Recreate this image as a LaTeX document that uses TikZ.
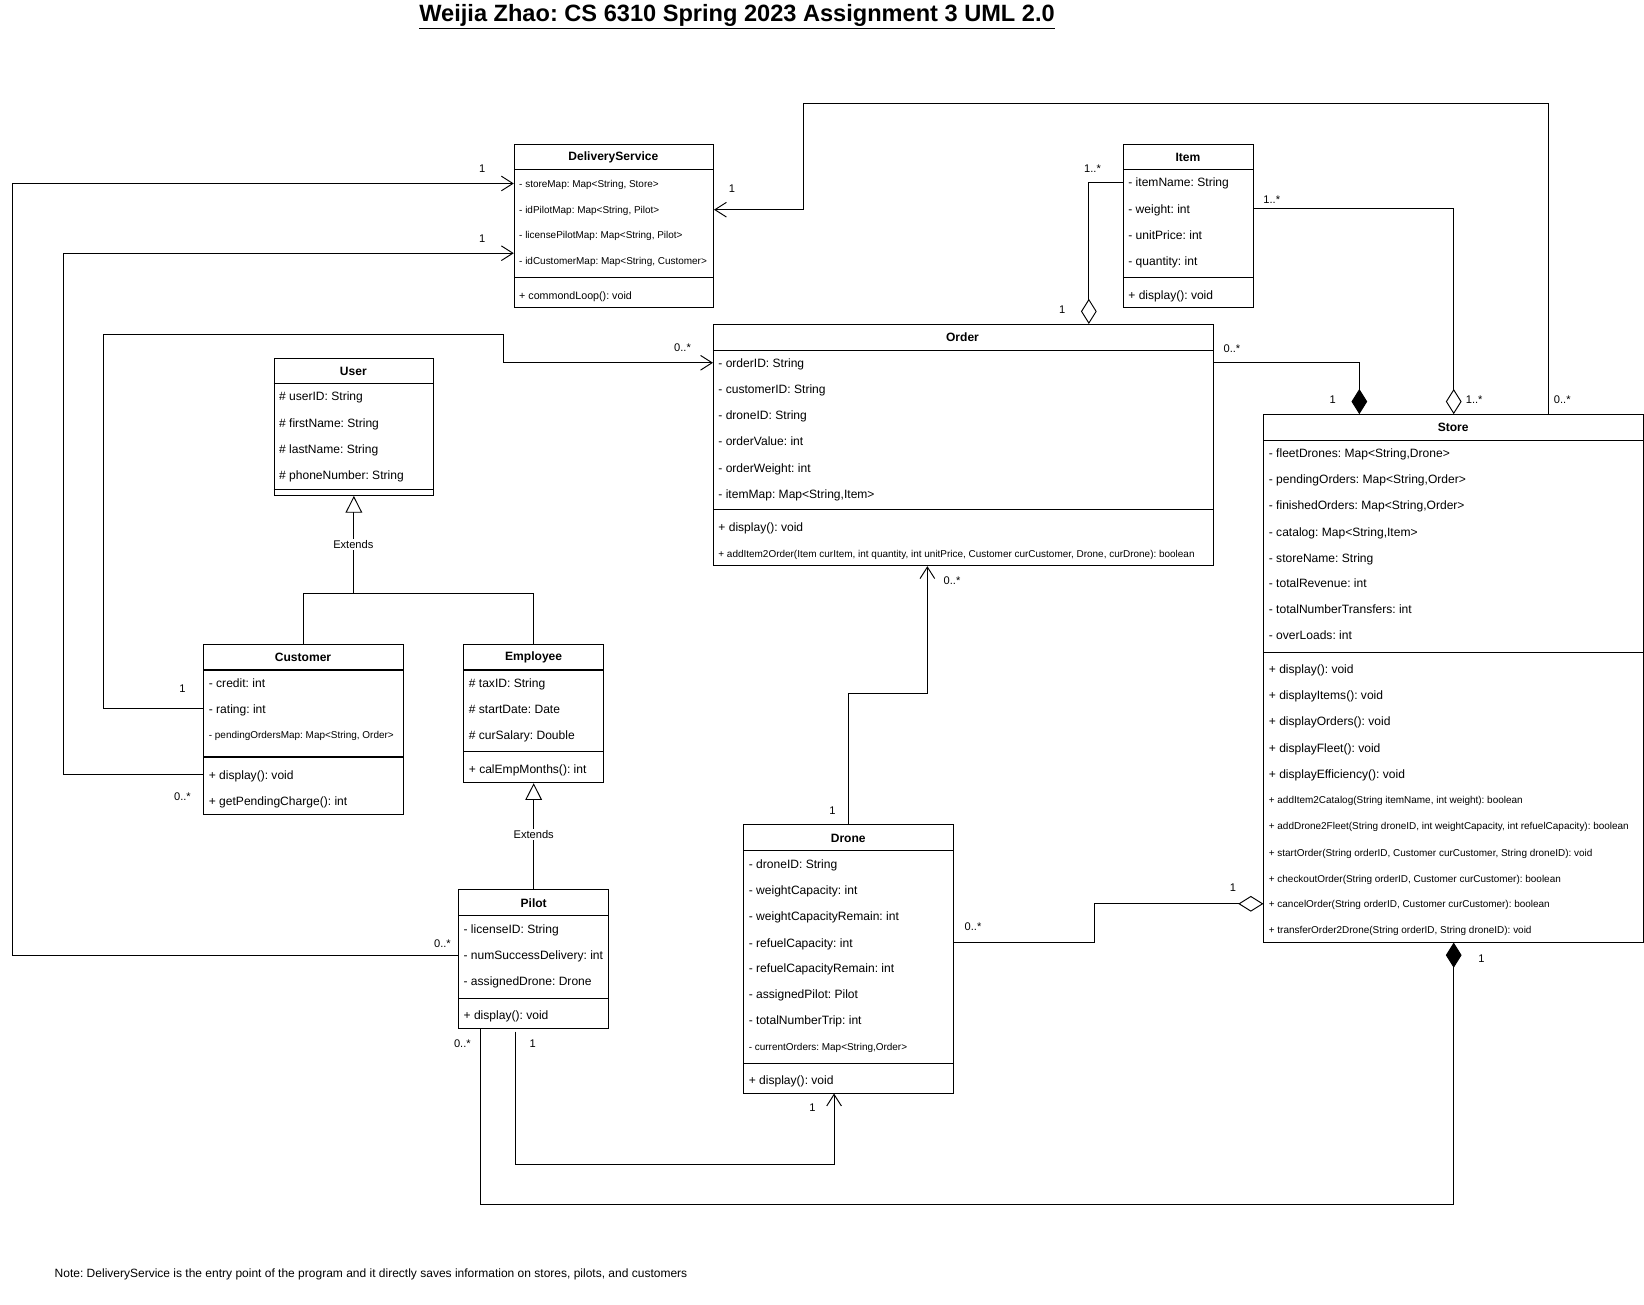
\documentclass[tikz,border=0pt]{standalone}
\usepackage{fontspec}
\setmainfont{Liberation Sans}
\usetikzlibrary{arrows.meta,calc}
% horizontal compartment rule inside a class box
\newcommand\clsrule[3]{\draw[line width=1pt] (#1,#3) -- (#2,#3);}
\begin{document}
\frenchspacing
\begin{tikzpicture}[x=1pt,y=-1pt,
  cls/.style={draw, line width=1pt, inner sep=0pt, anchor=north west, fill=white},
  clshead/.style={inner sep=0pt, yshift=-0.8pt, font=\bfseries\fontsize{11.5}{13}\selectfont},
  attr/.style={anchor=west, inner sep=0pt, text height=10.5pt, text depth=1.8pt, font=\fontsize{11.5}{13}\selectfont},
  sattr/.style={anchor=west, inner sep=0pt, text height=8.9pt, text depth=2pt, font=\fontsize{9.5}{11}\selectfont},
  multlab/.style={inner sep=1pt, font=\fontsize{10.6}{12}\selectfont},
  extlab/.style={inner sep=1.5pt, fill=white, font=\fontsize{10.6}{12}\selectfont},
  link/.style={line width=0.9pt, line join=miter},
  assoc/.style={link, -{Straight Barb[length=11pt,width=14pt,line width=0.9pt]}},
  aggr/.style={link, -{Diamond[length=24pt,width=15pt,fill=white,line width=0.9pt]}},
  comp/.style={link, -{Diamond[length=24pt,width=15pt,fill=black,line width=0.9pt]}},
  gen/.style={link, -{Triangle[length=16pt,width=16pt,fill=white,line width=0.9pt]}}
]
\useasboundingbox (0,0) rectangle (1568,1244);

% title
\node[font=\bfseries\fontsize{22.5}{26}\selectfont] (title) at (703,16)
  {\underline{Weijia Zhao: CS 6310 Spring 2023 Assignment 3 UML 2.0}};

% ---------------- DeliveryService
\node[cls, minimum width=190pt, minimum height=156pt] (ds) at (490,137) {};
\clsrule{490}{680}{162}\clsrule{490}{680}{265}
\node[clshead] (dsh) at (585,149) {DeliveryService};
\node[sattr] (da1) at (495,175) {- storeMap: Map<String, Store>};
\node[sattr] (da2) at (495,200) {- idPilotMap: Map<String, Pilot>};
\node[sattr] (da3) at (495,224) {- licensePilotMap: Map<String, Pilot>};
\node[sattr] (da4) at (495,249) {- idCustomerMap: Map<String, Customer>};
\node[attr, font=\fontsize{10.2}{12}\selectfont] (dm1) at (495,281) {+ commondLoop(): void};

% ---------------- Item
\node[cls, minimum width=124pt, minimum height=156pt] (item) at (1071,137) {};
\clsrule{1071}{1195}{162}\clsrule{1071}{1195}{265}
\node[clshead] (ih) at (1133,149) {Item};
\node[attr] (ia1) at (1076,174) {- itemName: String};
\node[attr] (ia2) at (1076,199) {- weight: int};
\node[attr] (ia3) at (1076,224) {- unitPrice: int};
\node[attr] (ia4) at (1076,249) {- quantity: int};
\node[attr] (im1) at (1076,281) {+ display(): void};

% ---------------- User
\node[cls, minimum width=152pt, minimum height=131pt] (user) at (261,341) {};
\clsrule{261}{413}{366}\clsrule{261}{413}{467}
\node[clshead] (uh) at (337,353) {User};
\node[attr] (ua1) at (266,378) {\# userID: String};
\node[attr] (ua2) at (266,403) {\# firstName: String};
\node[attr] (ua3) at (266,428) {\# lastName: String};
\node[attr] (ua4) at (266,453) {\# phoneNumber: String};

% ---------------- Order
\node[cls, minimum width=477pt, minimum height=230pt] (order) at (680,309) {};
\clsrule{680}{1157}{334}\clsrule{680}{1157}{486}
\node[clshead] (oh) at (918,321) {Order};
\node[attr] (oa1) at (685,346) {- orderID: String};
\node[attr] (oa2) at (685,371) {- customerID: String};
\node[attr] (oa3) at (685,396) {- droneID: String};
\node[attr] (oa4) at (685,421) {- orderValue: int};
\node[attr] (oa5) at (685,446) {- orderWeight: int};
\node[attr] (oa6) at (685,471) {- itemMap: Map<String,Item>};
\node[attr] (om1) at (685,503) {+ display(): void};
\node[sattr] (om2) at (685,528) {+ addItem2Order(Item curItem, int quantity, int unitPrice, Customer curCustomer, Drone, curDrone): boolean};

% ---------------- Store
\node[cls, minimum width=362pt, minimum height=503pt] (store) at (1205,395) {};
\clsrule{1205}{1567}{420}\clsrule{1205}{1567}{622}
\node[clshead] (sh) at (1386,407) {Store};
\node[attr] (sa1) at (1210,432) {- fleetDrones: Map<String,Drone>};
\node[attr] (sa2) at (1210,457) {- pendingOrders: Map<String,Order>};
\node[attr] (sa3) at (1210,482) {- finishedOrders: Map<String,Order>};
\node[attr] (sa4) at (1210,507) {- catalog: Map<String,Item>};
\node[attr] (sa5) at (1210,532) {- storeName: String};
\node[attr] (sa6) at (1210,556) {- totalRevenue: int};
\node[attr] (sa7) at (1210,581) {- totalNumberTransfers: int};
\node[attr] (sa8) at (1210,606) {- overLoads: int};
\node[attr] (sm1) at (1210,638) {+ display(): void};
\node[attr] (sm2) at (1210,663) {+ displayItems(): void};
\node[attr] (sm3) at (1210,688) {+ displayOrders(): void};
\node[attr] (sm4) at (1210,713) {+ displayFleet(): void};
\node[attr] (sm5) at (1210,738) {+ displayEfficiency(): void};
\node[sattr] (sm6) at (1210,763) {+ addItem2Catalog(String itemName, int weight): boolean};
\node[sattr] (sm7) at (1210,788) {+ addDrone2Fleet(String droneID, int weightCapacity, int refuelCapacity): boolean};
\node[sattr] (sm8) at (1210,813) {+ startOrder(String orderID, Customer curCustomer, String droneID): void};
\node[sattr] (sm9) at (1210,838) {+ checkoutOrder(String orderID, Customer curCustomer): boolean};
\node[sattr] (sm10) at (1210,862) {+ cancelOrder(String orderID, Customer curCustomer): boolean};
\node[sattr] (sm11) at (1210,887) {+ transferOrder2Drone(String orderID, String droneID): void};

% ---------------- Customer
\node[cls, minimum width=190pt, minimum height=162pt] (cust) at (194,614) {};
\clsrule{194}{384}{639}\clsrule{194}{384}{722}
\node[clshead] (ch) at (289,626) {Customer};
\node[attr] (ca1) at (199,651) {- credit: int};
\node[attr] (ca2) at (199,676) {- rating: int};
\node[sattr] (ca3) at (199,701) {- pendingOrdersMap: Map<String, Order>};
\node[attr] (cm1) at (199,739) {+ display(): void};
\node[attr] (cm2) at (199,764) {+ getPendingCharge(): int};

% ---------------- Employee
\node[cls, minimum width=133pt, minimum height=132pt] (emp) at (442,614) {};
\clsrule{442}{575}{639}\clsrule{442}{575}{717}
\node[clshead] (eh) at (509,626) {Employee};
\node[attr] (ea1) at (447,651) {\# taxID: String};
\node[attr] (ea2) at (447,676) {\# startDate: Date};
\node[attr] (ea3) at (447,701) {\# curSalary: Double};
\node[attr] (em1) at (447,733) {+ calEmpMonths(): int};

% ---------------- Pilot
\node[cls, minimum width=143pt, minimum height=132pt] (pilot) at (437,848) {};
\clsrule{437}{580}{873}\clsrule{437}{580}{952}
\node[clshead] (ph) at (509,861) {Pilot};
\node[attr] (pa1) at (442,886) {- licenseID: String};
\node[attr] (pa2) at (442,911) {- numSuccessDelivery: int};
\node[attr] (pa3) at (442,936) {- assignedDrone: Drone};
\node[attr] (pm1) at (442,968) {+ display(): void};

% ---------------- Drone
\node[cls, minimum width=200pt, minimum height=256pt] (drone) at (709,786) {};
\clsrule{709}{909}{811}\clsrule{709}{909}{1014}
\node[clshead] (drh) at (809,799) {Drone};
\node[attr] (dra1) at (714,824) {- droneID: String};
\node[attr] (dra2) at (714,849) {- weightCapacity: int};
\node[attr] (dra3) at (714,874) {- weightCapacityRemain: int};
\node[attr] (dra4) at (714,899) {- refuelCapacity: int};
\node[attr] (dra5) at (714,923) {- refuelCapacityRemain: int};
\node[attr] (dra6) at (714,948) {- assignedPilot: Pilot};
\node[attr] (dra7) at (714,973) {- totalNumberTrip: int};
\node[sattr] (dra8) at (714,998) {- currentOrders: Map<String,Order>};
\node[attr] (drm1) at (714,1030) {+ display(): void};

% ---------------- generalizations
\draw[gen] (cust.north) -- ++(0,-48) -| (user.south);
\draw[link] (emp.north) -- ++(0,-48) -- ++(-171.5,0);
\node[extlab] (ext1) at (337,519) {Extends};
\draw[gen] (pilot.north) -- (emp.south);
\node[extlab] (ext2) at (509,796) {Extends};

% ---------------- associations to DeliveryService
\draw[assoc] (pilot.west |- pa2) -- ++(-425,0) |- (ds.west |- da1);
\node[multlab] (m1a) at (460,161) {1};
\node[multlab] (m1b) at (422,900) {0..*};

\draw[assoc] (cust.west |- cm1) -- ++(-133,0) |- ($(ds.west)+(0,26)$);
\node[multlab] (m2a) at (460,228) {1};
\node[multlab] (m2b) at (174,760) {0..*};

\draw[assoc] ($(store.north)+(90,0)$) -- ++(0,-296) -- ++(-710,0) |- (ds.east |- da2);
\node[multlab] (m4a) at (698,180) {1};
\node[multlab] (m4b) at (1490,381) {0..*};

% ---------------- Customer to Order
\draw[assoc] (cust.west |- ca2) -- ++(-95,0) -- ++(0,-357) -- ++(381,0) |- (order.west |- oa1);
\node[multlab] (m3a) at (174,657) {1};
\node[multlab] (m3b) at (651,332) {0..*};

% ---------------- Item aggregations
\draw[aggr] (item.west |- ia1) -| ($(order.north)+(119.5,0)$);
\node[multlab] (m5a) at (1042,161) {1..*};
\node[multlab] (m5b) at (1013,295) {1};

\draw[aggr] (item.east |- ia2) -| (store.north);
\node[multlab] (m6a) at (1213,190) {1..*};
\node[multlab] (m6b) at (1406,381) {1..*};

% ---------------- Order composed in Store
\draw[comp] (order.east |- oa1) -| ($(store.north)+(-90,0)$);
\node[multlab] (m7a) at (1175,333) {0..*};
\node[multlab] (m7b) at (1271,381) {1};

% ---------------- Drone to Order
\draw[assoc] (drone.north) -- ++(0,-125) -| ($(order.south)+(-34.5,0)$);
\node[multlab] (m8a) at (908,554) {0..*};
\node[multlab] (m8b) at (794,773) {1};

% ---------------- Drone aggregated in Store
\draw[aggr] (drone.east |- dra4) -- ++(134,0) |- (store.west |- sm10);
\node[multlab] (m9a) at (928,884) {0..*};
\node[multlab] (m9b) at (1176,847) {1};

% ---------------- Pilot to Drone
\draw[assoc] ($(pilot.south)+(-17.5,3)$) -- ++(0,127) -| ($(drone.south)+(-14,0)$);
\node[multlab] (m10a) at (508,995) {1};
\node[multlab] (m10b) at (775,1056) {1};

% ---------------- Pilot composed in Store
\draw[comp] ($(pilot.south)+(-50.5,0)$) -- ++(0,168) -| (store.south);
\node[multlab] (m11a) at (441,995) {0..*};
\node[multlab] (m11b) at (1413,914) {1};

% note
\node[anchor=west, inner sep=0pt, font=\fontsize{11.45}{13}\selectfont] (note) at (52,1215)
  {Note: DeliveryService is the entry point of the program and it directly saves information on stores, pilots, and customers};
\end{tikzpicture}
\end{document}
